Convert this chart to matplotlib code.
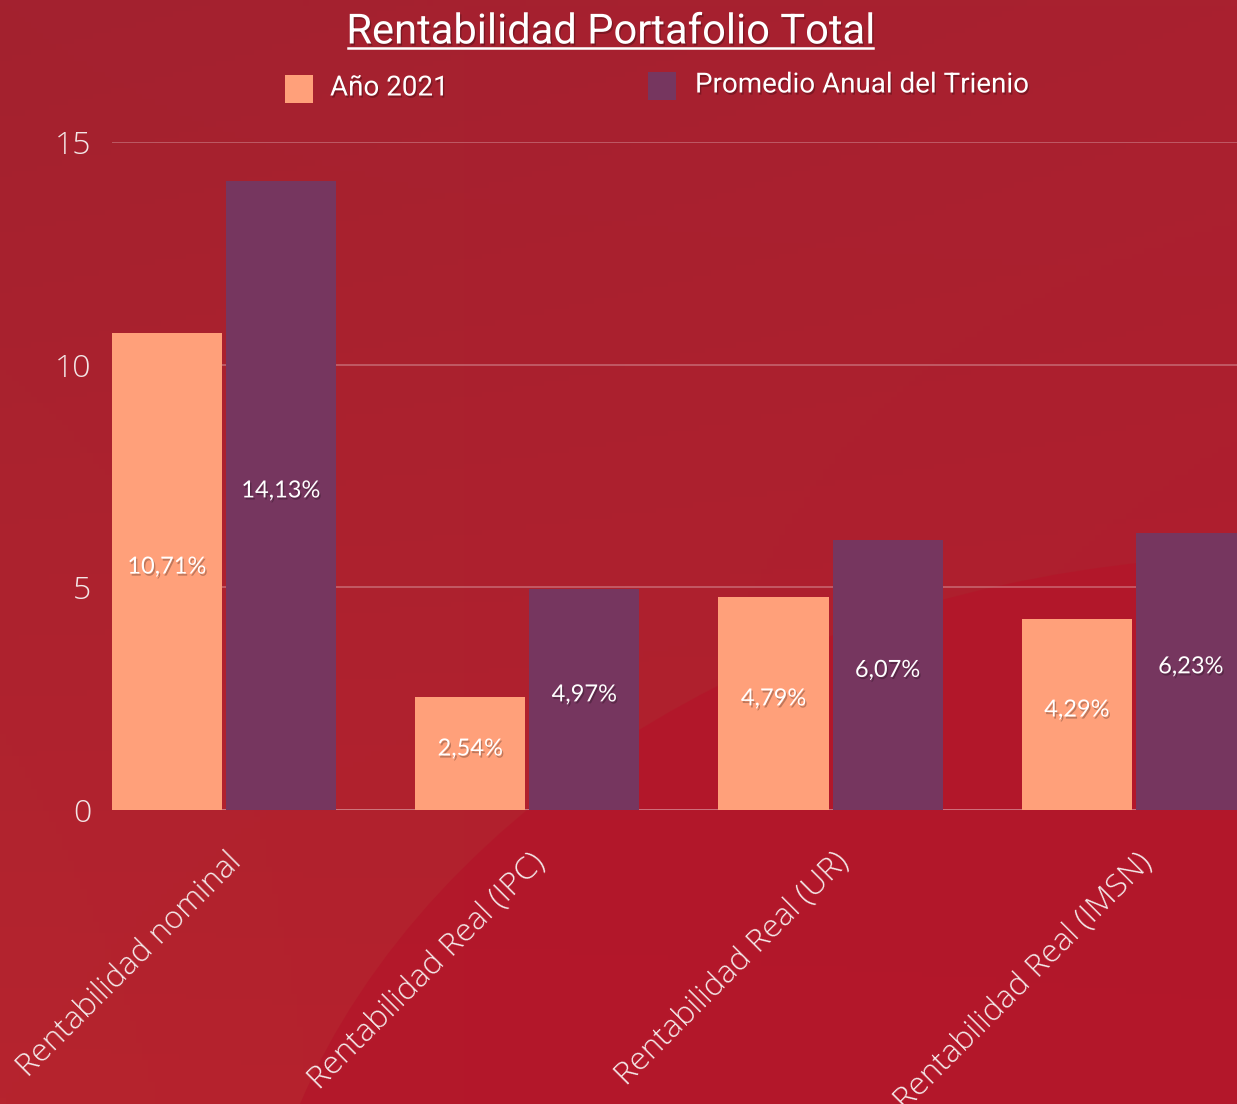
import numpy as np
import matplotlib
matplotlib.use("Agg")
import matplotlib.pyplot as plt
from matplotlib.path import Path
from matplotlib.patches import PathPatch, Rectangle
import matplotlib.patheffects as pe
from matplotlib.transforms import ScaledTranslation

categories = ["Rentabilidad nominal", "Rentabilidad Real (IPC)",
              "Rentabilidad Real (UR)", "Rentabilidad Real (IMSN)"]
anio_2021 = [10.71, 2.54, 4.79, 4.29]
promedio_trienio = [14.13, 4.97, 6.07, 6.23]
labels_2021 = ["10,71%", "2,54%", "4,79%", "4,29%"]
labels_trienio = ["14,13%", "4,97%", "6,07%", "6,23%"]
series_names = ["Año 2021", "Promedio Anual del Trienio"]
y_ticks = [0, 5, 10, 15]

W, H = 1237, 1104
fig = plt.figure(figsize=(W / 100, H / 100), dpi=100)

# background gradient
bg = fig.add_axes([0, 0, 1, 1], zorder=-10)
bg.set_axis_off()
yy, xx = np.mgrid[0:1:200j, 0:1:200j]
c_tl = np.array([0xA3, 0x21, 0x2F]) / 255
c_tr = np.array([0xA9, 0x21, 0x30]) / 255
c_bl = np.array([0xB6, 0x24, 0x2E]) / 255
c_br = np.array([0xB4, 0x1C, 0x2C]) / 255
img = (c_tl[None, None] * ((1 - xx) * (1 - yy))[..., None]
       + c_tr[None, None] * (xx * (1 - yy))[..., None]
       + c_bl[None, None] * ((1 - xx) * yy)[..., None]
       + c_br[None, None] * (xx * yy)[..., None])
bg.imshow(img, extent=[0, 1, 0, 1], aspect="auto", origin="upper")
bg.set_xlim(0, 1); bg.set_ylim(0, 1)

def fxy(px, py):
    return (px / W, 1 - py / H)

verts = [fxy(300, 1104), fxy(430, 800), fxy(800, 570), fxy(1237, 556),
         fxy(1237, 1104), fxy(300, 1104)]
codes = [Path.MOVETO, Path.CURVE4, Path.CURVE4, Path.CURVE4, Path.LINETO, Path.CLOSEPOLY]
bg.add_patch(PathPatch(Path(verts, codes), facecolor="#B3172A", edgecolor="none", alpha=0.9))

# main axes
ax = fig.add_axes([112 / W, 1 - 810 / H, 1 - 112 / W, (810 - 142) / H])
ax.patch.set_alpha(0)
for s in ax.spines.values():
    s.set_visible(False)

x = np.arange(len(categories))
bw = 0.363
off = 0.188
c_orange = "#FFA07A"
c_purple = "#76365F"
b1 = ax.bar(x - off, anio_2021, width=bw, color=c_orange, zorder=3)
b2 = ax.bar(x + off, promedio_trienio, width=bw, color=c_purple, zorder=3)

ax.set_xlim(-0.369, 3.34)
ax.set_ylim(0, 15)
ax.set_yticks(y_ticks)
for t in y_ticks:
    ax.axhline(t, color="white", alpha=0.45 if t == 0 else 0.3, lw=1.2, zorder=1)

ax.tick_params(axis="both", length=0, colors="white")
ax.set_yticklabels([str(t) for t in y_ticks], fontsize=23, fontfamily="Open Sans",
                   fontweight="light", color="#F3E6E6")
ax.tick_params(axis="y", pad=15)
ax.set_xticks(x)
ax.set_xticklabels(categories, rotation=45, ha="right", va="top",
                   rotation_mode="anchor", fontsize=23, fontfamily="Open Sans",
                   fontweight="light", color="#F5EAEA")
ax.tick_params(axis="x", pad=26)
for lbl in ax.get_xticklabels():
    lbl.set_transform(lbl.get_transform() + ScaledTranslation(0.02, 0, fig.dpi_scale_trans))

shadow = [pe.SimplePatchShadow(offset=(1, -1.5), shadow_rgbFace="black", alpha=0.25), pe.Normal()]
for xi, v, lab in zip(x - off, anio_2021, labels_2021):
    ax.text(xi, v / 2 + 0.1, lab, ha="center", va="center", fontsize=17, color="white",
            fontfamily="Lato", zorder=5, path_effects=shadow)
for xi, v, lab in zip(x + off, promedio_trienio, labels_trienio):
    ax.text(xi, v / 2 + 0.1, lab, ha="center", va="center", fontsize=17, color="white",
            fontfamily="Lato", zorder=5, path_effects=shadow)

# title
fig.text(610 / W, 1 - 32 / H, "Rentabilidad Portafolio Total", ha="center", va="center",
         fontsize=30, color="white", fontfamily="Roboto",
         path_effects=[pe.SimplePatchShadow(offset=(1, -1.5), shadow_rgbFace="black", alpha=0.25), pe.Normal()])
fig.add_artist(plt.Line2D([348 / W, 873 / W], [1 - 48 / H, 1 - 48 / H], color="white", lw=1.8))

# legend
for (px, py, col, name, tx, ty) in [(285, 75, c_orange, series_names[0], 330, 88),
                                    (648, 72, c_purple, series_names[1], 695, 85)]:
    fig.add_artist(Rectangle(fxy(px, py + 28), 28 / W, 28 / H, transform=fig.transFigure,
                             facecolor=col, edgecolor="none",
                             path_effects=[pe.SimplePatchShadow(offset=(0, 0), shadow_rgbFace="#FFD0D0", alpha=0.25), pe.Normal()]))
    fig.text(tx / W, 1 - ty / H, name, ha="left", va="center", fontsize=20,
             color="white", fontfamily="Roboto",
             path_effects=[pe.SimplePatchShadow(offset=(1, -1.5), shadow_rgbFace="black", alpha=0.25), pe.Normal()])

fig.savefig("out.png", dpi=100)
